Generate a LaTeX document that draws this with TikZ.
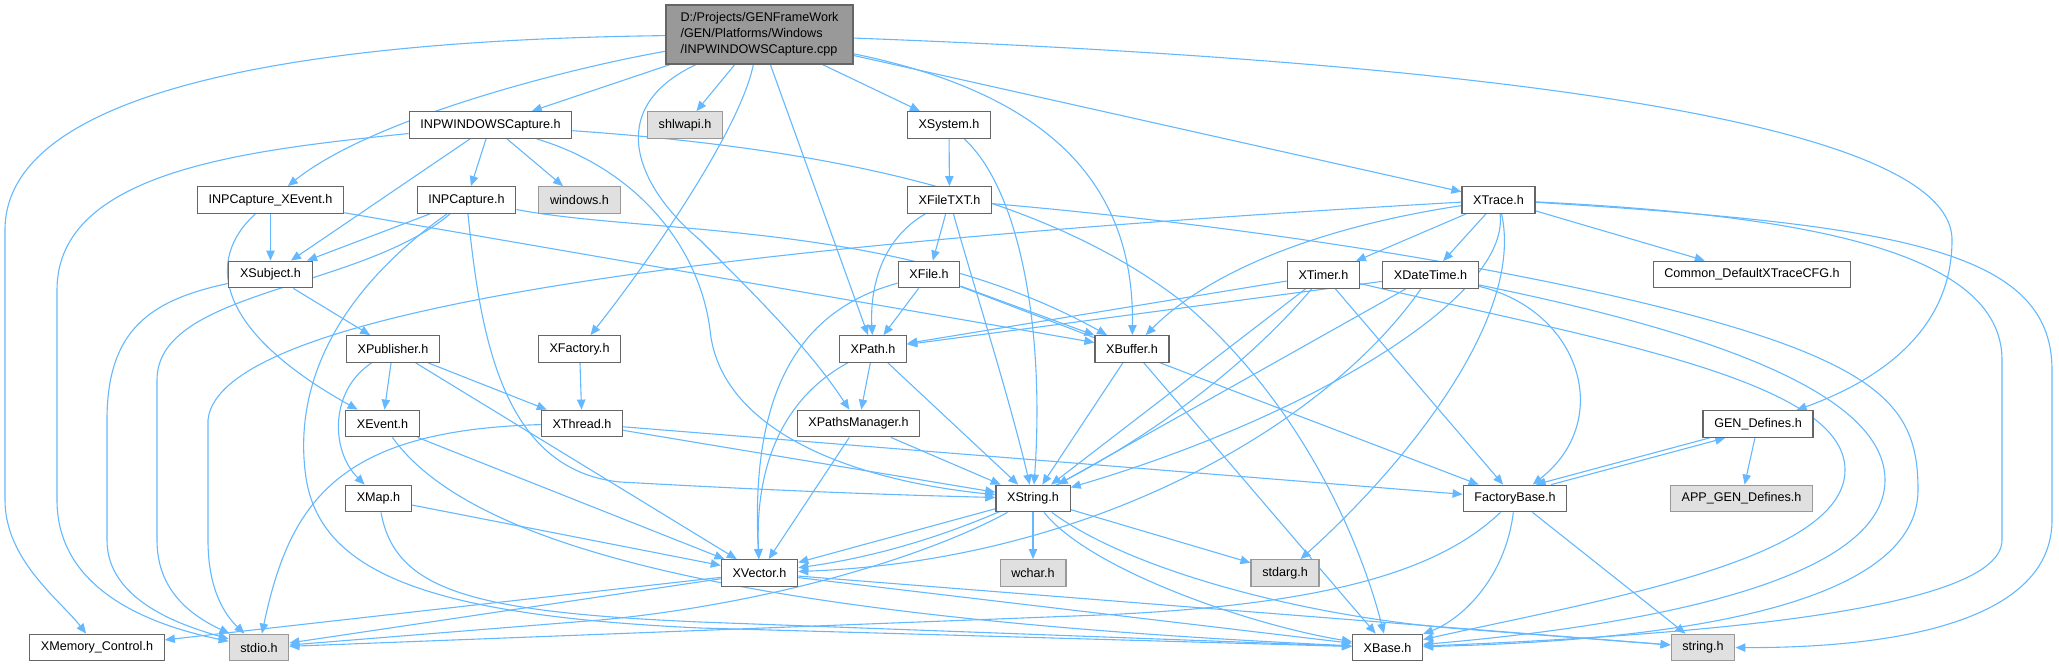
\documentclass[tikz,border=0pt]{standalone}
\usepackage{fontspec}
\setmainfont{Liberation Sans}
\usepackage{tikz}
\usetikzlibrary{arrows.meta,backgrounds}
\definecolor{edgeblue}{HTML}{63B8FF}
\definecolor{boxline}{HTML}{666666}
\definecolor{sysline}{HTML}{999999}
\definecolor{sysfill}{HTML}{E0E0E0}
\definecolor{mainfill}{HTML}{999999}
\tikzset{
  >={Triangle[length=5pt,width=4.2pt]},
  file/.style={draw=boxline, fill=white, line width=.6pt, inner xsep=5.6pt, inner ysep=0pt,
    minimum height=13.3pt, font=\fontsize{6.3}{8}\selectfont},
  sysfile/.style={file, draw=sysline, fill=sysfill},
  mainfile/.style={file, fill=mainfill, align=left, minimum width=93.5pt, minimum height=29.5pt},
  dep/.style={->, line width=.55pt, color=edgeblue}
}

\begin{document}
\begin{tikzpicture}[x=.5pt,y=-.5pt]
  \useasboundingbox (0,0) rectangle (2059,667);

  \node[mainfile] (m) at (759.5,34.5)
    {D:/Projects/GENFrameWork\\/GEN/Platforms/Windows\\/INPWINDOWSCapture.cpp};
  \node[file] (iwh) at (490.5,125) {INPWINDOWSCapture.h};
  \node[sysfile] (shl) at (685,125) {shlwapi.h};
  \node[file] (xsys) at (949,125) {XSystem.h};
  \node[file] (xce) at (270.5,200) {INPCapture\_XEvent.h};
  \node[file] (icap) at (466.5,200) {INPCapture.h};
  \node[sysfile] (win) at (579.5,200) {windows.h};
  \node[file] (xtxt) at (949.5,200) {XFileTXT.h};
  \node[file] (xtr) at (1498.5,200) {XTrace.h};
  \node[file] (xsub) at (270.5,274.5) {XSubject.h};
  \node[file] (xfile) at (929,274.5) {XFile.h};
  \node[file] (xtim) at (1323.5,275) {XTimer.h};
  \node[file] (xdt) at (1430.5,275) {XDateTime.h};
  \node[file] (cfg) at (1752,274.5) {Common\_DefaultXTraceCFG.h};
  \node[file] (xpub) at (393,349) {XPublisher.h};
  \node[file] (xfac) at (579.5,349) {XFactory.h};
  \node[file] (xpath) at (873,349) {XPath.h};
  \node[file] (xbuf) at (1132,349) {XBuffer.h};
  \node[file] (xev) at (382.5,423.5) {XEvent.h};
  \node[file] (xthr) at (582,423.5) {XThread.h};
  \node[file] (xpm) at (858.5,423.5) {XPathsManager.h};
  \node[file] (gen) at (1758,424) {GEN\_Defines.h};
  \node[file] (xmap) at (378.5,498.5) {XMap.h};
  \node[file] (xstr) at (1033,498.5) {XString.h};
  \node[file] (fb) at (1515,498.5) {FactoryBase.h};
  \node[sysfile] (app) at (1741.5,498.5) {APP\_GEN\_Defines.h};
  \node[file] (xvec) at (759.5,573) {XVector.h};
  \node[sysfile] (wch) at (1033,573) {wchar.h};
  \node[sysfile] (sarg) at (1285,573) {stdarg.h};
  \node[file] (xmc) at (97,647.5) {XMemory\_Control.h};
  \node[sysfile] (stdio) at (259,647.5) {stdio.h};
  \node[file] (xbase) at (1387.5,647.5) {XBase.h};
  \node[sysfile] (strh) at (1703,647.5) {string.h};

  \begin{scope}[on background layer]
  \draw[dep] (m) -- (iwh);
  \draw[dep] (m) -- (shl);
  \draw[dep] (m) -- (xsys);
  \draw[dep] (m) -- (xtr);
  \draw[dep] (m) -- (xpath);
  \draw[dep] (m) .. controls (560,70) and (370,120) .. (xce);
  \draw[dep] (m) .. controls (300,40) and (5,90) .. (5,230) -- (5,500) .. controls (5,560) and (60,600) .. (xmc);
  \draw[dep] (m) .. controls (600,110) and (640,190) .. (700,240) .. controls (760,300) and (810,350) .. (xpm);
  \draw[dep] (m) .. controls (740,130) and (650,260) .. (xfac);
  \draw[dep] (m) .. controls (1030,90) and (1135,170) .. (xbuf);
  \draw[dep] (m) .. controls (1300,55) and (1952,100) .. (1952,240) .. controls (1952,330) and (1880,380) .. (gen);

  \draw[dep] (iwh) .. controls (250,150) and (57,170) .. (57,290) -- (57,500) .. controls (57,590) and (150,625) .. (stdio);
  \draw[dep] (iwh) -- (xsub);
  \draw[dep] (iwh) -- (icap);
  \draw[dep] (iwh) -- (win);
  \draw[dep] (iwh) .. controls (850,150) and (1050,200) .. (1180,300) .. controls (1300,400) and (1360,540) .. (xbase);
  \draw[dep] (iwh) .. controls (640,170) and (700,250) .. (710,330) .. controls (720,430) and (850,480) .. (xstr);

  \draw[dep] (xce) -- (xsub);
  \draw[dep] (xce) .. controls (205,260) and (215,330) .. (xev);
  \draw[dep] (xce) -- (xbuf);

  \draw[dep] (icap) -- (xsub);
  \draw[dep] (icap) .. controls (360,290) and (157,290) .. (157,380) -- (157,540) .. controls (157,590) and (190,615) .. (stdio);
  \draw[dep] (icap) .. controls (340,290) and (295,380) .. (305,470) .. controls (315,570) and (420,615) .. (700,628) -- (xbase);
  \draw[dep] (icap) .. controls (480,330) and (500,470) .. (620,482) .. controls (800,492) and (900,495) .. (xstr);
  \draw[dep] (icap) .. controls (650,235) and (900,220) .. (xbuf);

  \draw[dep] (xsub) -- (xpub);
  \draw[dep] (xsub) .. controls (150,300) and (107,330) .. (107,420) -- (107,540) .. controls (107,600) and (180,625) .. (stdio);

  \draw[dep] (xpub) -- (xev);
  \draw[dep] (xpub) -- (xthr);
  \draw[dep] (xpub) .. controls (330,390) and (330,450) .. (xmap);
  \draw[dep] (xpub) -- (xvec);

  \draw[dep] (xev) -- (xvec);
  \draw[dep] (xev) .. controls (480,560) and (800,620) .. (xbase);

  \draw[dep] (xmap) -- (xvec);
  \draw[dep] (xmap) .. controls (395,590) and (470,612) .. (700,622) -- (xbase);

  \draw[dep] (xthr) .. controls (340,430) and (290,500) .. (stdio);
  \draw[dep] (xthr) -- (xstr);
  \draw[dep] (xthr) -- (fb);

  \draw[dep] (xfac) -- (xthr);

  \draw[dep] (xsys) -- (xtxt);
  \draw[dep] (xsys) .. controls (1020,190) and (1045,330) .. (xstr);

  \draw[dep] (xtxt) -- (xfile);
  \draw[dep] (xtxt) .. controls (880,240) and (870,290) .. (xpath);
  \draw[dep] (xtxt) .. controls (975,290) and (1010,400) .. (xstr);
  \draw[dep] (xtxt) .. controls (1300,230) and (1650,290) .. (1800,350) .. controls (1900,390) and (1918,430) .. (1918,490) .. controls (1918,600) and (1700,640) .. (xbase);

  \draw[dep] (xfile) -- (xpath);
  \draw[dep] (xfile) -- (xbuf);
  \draw[dep] (xfile) .. controls (800,310) and (750,390) .. (xvec);
  \draw[dep] (xfile) -- (fb);

  \draw[dep] (xtr) .. controls (1300,230) and (1200,280) .. (xbuf);
  \draw[dep] (xtr) -- (xtim);
  \draw[dep] (xtr) -- (xdt);
  \draw[dep] (xtr) -- (cfg);
  \draw[dep] (xtr) .. controls (1525,320) and (1400,470) .. (sarg);
  \draw[dep] (xtr) .. controls (1510,300) and (1300,420) .. (xstr);
  \draw[dep] (xtr) .. controls (800,240) and (220,300) .. (208,420) -- (208,540) .. controls (208,590) and (225,615) .. (stdio);
  \draw[dep] (xtr) .. controls (1800,215) and (2002,250) .. (2002,360) -- (2002,540) .. controls (2002,610) and (1700,635) .. (xbase);
  \draw[dep] (xtr) .. controls (1900,225) and (2052,250) .. (2052,370) -- (2052,520) .. controls (2052,620) and (1900,648) .. (strh);

  \draw[dep] (xtim) -- (xpath);
  \draw[dep] (xtim) -- (xstr);
  \draw[dep] (xtim) .. controls (1200,420) and (1000,540) .. (xvec);
  \draw[dep] (xtim) -- (fb);
  \draw[dep] (xtim) .. controls (1600,340) and (1845,380) .. (1845,470) .. controls (1845,560) and (1600,600) .. (xbase);

  \draw[dep] (xdt) -- (xpath);
  \draw[dep] (xdt) -- (xstr);
  \draw[dep] (xdt) .. controls (1330,420) and (1100,560) .. (xvec);
  \draw[dep] (xdt) .. controls (1580,310) and (1615,420) .. (fb);
  \draw[dep] (xdt) .. controls (1650,320) and (1885,380) .. (1885,480) .. controls (1885,580) and (1650,625) .. (xbase);

  \draw[dep] (xbuf) -- (xstr);
  \draw[dep] (xbuf) -- (xbase);

  \draw[dep] (xpath) -- (xpm);
  \draw[dep] (xpath) -- (xstr);
  \draw[dep] (xpath) .. controls (780,400) and (755,470) .. (xvec);

  \draw[dep] (xpm) -- (xstr);
  \draw[dep] (xpm) -- (xvec);

  \draw[dep] (xstr) -- (xvec);
  \draw[dep] (xstr) -- (wch);
  \draw[dep] (xstr) -- (sarg);
  \draw[dep] (xstr) .. controls (1090,570) and (1250,625) .. (xbase);
  \draw[dep] (xstr) .. controls (1130,570) and (1300,615) .. (1450,628) -- (strh);
  \draw[dep] (xstr) .. controls (920,560) and (760,605) .. (600,620) -- (stdio);

  \draw[dep] (xvec) -- (xmc);
  \draw[dep] (xvec) -- (stdio);
  \draw[dep] (xvec) -- (xbase);
  \draw[dep] (xvec) -- (strh);

  \draw[dep] (fb) .. controls (1440,570) and (1330,605) .. (1100,615) -- (stdio);
  \draw[dep] (fb) .. controls (1505,580) and (1460,620) .. (xbase);
  \draw[dep] (fb) -- (strh);
  \draw[dep] (fb.21) -- (gen.203);

  \draw[dep] (gen.196) -- (fb.34);
  \draw[dep] (gen) -- (app);
  \end{scope}
\end{tikzpicture}
\end{document}
